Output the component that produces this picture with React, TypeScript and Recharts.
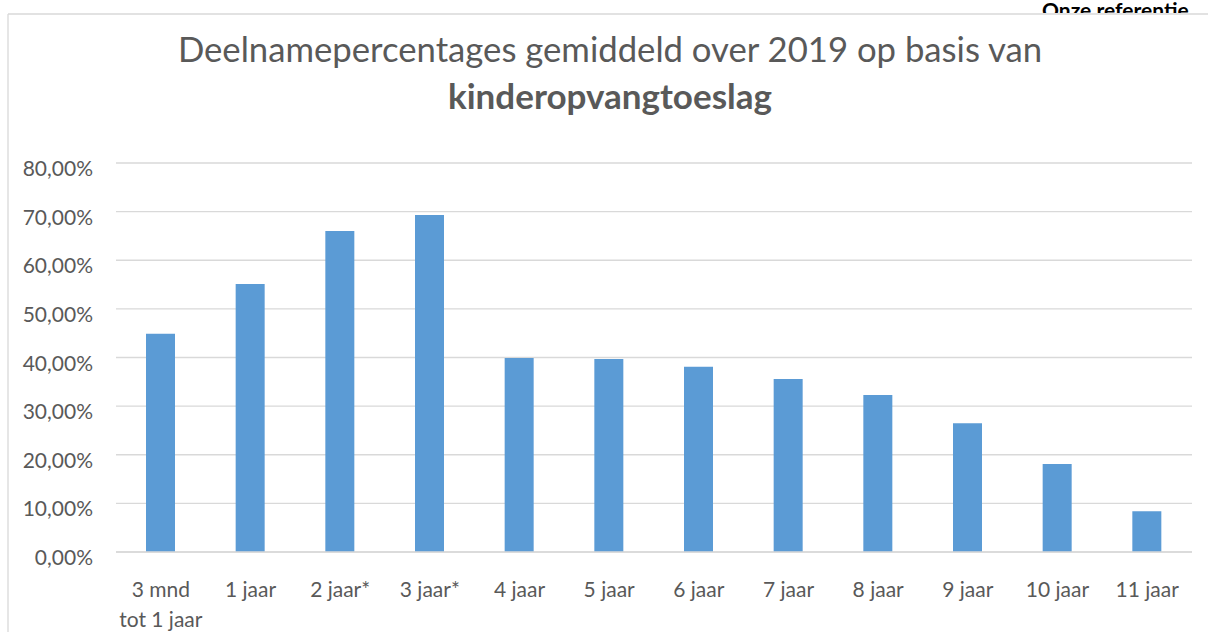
import React from 'react';
import { BarChart, Bar, XAxis, YAxis, CartesianGrid } from 'recharts';

const categories = ['3 mnd\ntot 1 jaar', '1 jaar', '2 jaar*', '3 jaar*', '4 jaar', '5 jaar', '6 jaar', '7 jaar', '8 jaar', '9 jaar', '10 jaar', '11 jaar'];
const values = [44.9, 55.1, 66.0, 69.3, 39.9, 39.7, 38.1, 35.6, 32.3, 26.5, 18.1, 8.4];
const yTicks = [0, 10, 20, 30, 40, 50, 60, 70, 80];
const titleLine1 = 'Deelnamepercentages gemiddeld over 2019 op basis van';
const titleLine2 = 'kinderopvangtoeslag';
const cornerText = 'Onze referentie';

const data = categories.map((c, i) => ({ name: c, value: values[i] }));

const FONT = 'Lato, "Open Sans", sans-serif';
const TEXT = '#595959';
const GRID = '#d9d9d9';

const fmt = (v: number) => `${v.toFixed(2).replace('.', ',')}%`;

const YTick = (props: any) => {
  const { x, y, payload } = props;
  return (
    <text x={x - 23} y={y + 13} textAnchor="end" fill={TEXT} fontSize={21} fontFamily={FONT}>
      {fmt(payload.value)}
    </text>
  );
};

const XTick = (props: any) => {
  const { x, y, payload } = props;
  const lines = String(payload.value).split('\n');
  return (
    <text x={x} y={y} textAnchor="middle" fill={TEXT} fontSize={21} fontFamily={FONT}>
      {lines.map((l, i) => (
        <tspan key={i} x={x} y={y + 45 + i * 30}>{l}</tspan>
      ))}
    </text>
  );
};

export default function App() {
  return (
    <div style={{ position: 'absolute', left: 0, top: 0, width: 1208, height: 632, background: '#fff', overflow: 'hidden' }}>
      <div style={{ position: 'absolute', left: 0, top: 0 }}>
        <BarChart width={1208} height={632} data={data} margin={{ top: 163, right: 16, bottom: 30, left: 16 }}>
          <CartesianGrid vertical={false} stroke={GRID} strokeWidth={1.3} />
          <XAxis dataKey="name" interval={0} height={50} tickSize={0} tickMargin={0} axisLine={{ stroke: GRID, strokeWidth: 1.3 }} tickLine={false} tick={<XTick />} />
          <YAxis width={100} domain={[0, 80]} ticks={yTicks} interval={0} tickSize={0} tickMargin={0} axisLine={false} tickLine={false} tick={<YTick />} />
          <Bar dataKey="value" fill="#5b9bd5" barSize={29} isAnimationActive={false} />
        </BarChart>
      </div>
      <svg width={1208} height={632} style={{ position: 'absolute', left: 0, top: 0, pointerEvents: 'none' }}>
        <defs>
          <clipPath id="cornerClip">
            <rect x={0} y={0} width={1208} height={13} />
          </clipPath>
        </defs>
        <text x={1042} y={18} fontSize={21} fontWeight={700} fill="#000" fontFamily={FONT} clipPath="url(#cornerClip)">{cornerText}</text>
        <line x1={8} y1={14} x2={1208} y2={14} stroke={GRID} strokeWidth={1.3} />
        <line x1={8} y1={14} x2={8} y2={632} stroke={GRID} strokeWidth={1.3} />
        <text x={610} y={62} textAnchor="middle" fontSize={34.7} fill={TEXT} fontFamily={FONT}>{titleLine1}</text>
        <text x={610} y={109} textAnchor="middle" fontSize={35} fontWeight={700} fill={TEXT} fontFamily={FONT}>{titleLine2}</text>
      </svg>
    </div>
  );
}
